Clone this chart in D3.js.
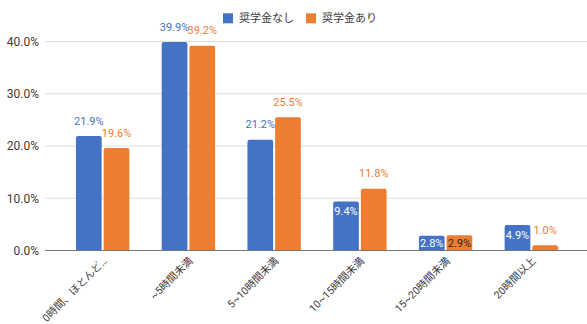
<!DOCTYPE html>
<html>
<head>
<meta charset="utf-8">
<script src="https://cdn.jsdelivr.net/npm/d3@7"></script>
<style>
  html, body { margin: 0; padding: 0; background: #fff; }
  svg { display: block; font-family: Roboto, "Noto Sans CJK JP", sans-serif; }
</style>
</head>
<body>
<svg id="chart" width="587" height="324"></svg>
<script>
// Weekly study hours, with and without a scholarship (share of respondents, %)
const categories = ["0時間、ほとんど…", "~5時間未満", "5~10時間未満", "10~15時間未満", "15~20時間未満", "20時間以上"];
const seriesNames = ["奨学金なし", "奨学金あり"];
const noScholarship = [21.9, 39.9, 21.2, 9.4, 2.8, 4.9];
const withScholarship = [19.6, 39.2, 25.5, 11.8, 2.9, 1.0];
const yTicks = [0, 10, 20, 30, 40];

const colors = ["#4472c4", "#ed7d31"];
const seriesValues = [noScholarship, withScholarship];

const svg = d3.select("#chart");

const y = d3.scaleLinear().domain([0, 40]).range([250.5, 41.5]);
const x0 = d3.scaleBand().domain(categories).range([59.8, 574.2]).padding(0);
const x1 = d3.scaleBand().domain(seriesNames).range([-26.7, 26.7]).paddingInner(0.072);

// gridlines
svg.append("g")
  .selectAll("line")
  .data(yTicks.filter(d => d !== 0))
  .join("line")
  .attr("x1", 45).attr("x2", 587)
  .attr("y1", d => y(d)).attr("y2", d => y(d))
  .attr("stroke", "#dedede").attr("stroke-width", 1);

// y axis labels
svg.append("g")
  .selectAll("text")
  .data(yTicks)
  .join("text")
  .attr("x", 39)
  .attr("y", d => y(d))
  .attr("dy", "0.36em")
  .attr("text-anchor", "end")
  .attr("font-size", 12)
  .attr("fill", "#3c3c3c")
  .text(d => d.toFixed(1) + "%");

// bars with slightly rounded tops
function barPath(x, top, w, bottom, r) {
  const h = bottom - top;
  r = Math.min(r, h, w / 2);
  return `M${x},${bottom}V${top + r}Q${x},${top} ${x + r},${top}H${x + w - r}Q${x + w},${top} ${x + w},${top + r}V${bottom}Z`;
}

const rows = [];
categories.forEach((c, i) => {
  seriesNames.forEach((s, j) => {
    rows.push({ cat: c, series: s, si: j, value: seriesValues[j][i] });
  });
});

const barG = svg.append("g");
barG.selectAll("path")
  .data(rows)
  .join("path")
  .attr("d", d => {
    const bx = x0(d.cat) + x0.bandwidth() / 2 + x1(d.series);
    return barPath(bx, y(d.value), x1.bandwidth(), y(0), 2);
  })
  .attr("fill", d => colors[d.si]);

// baseline
svg.append("line")
  .attr("x1", 45).attr("x2", 587)
  .attr("y1", y(0)).attr("y2", y(0))
  .attr("stroke", "#777").attr("stroke-width", 1.2);

// value labels: short bars under 10% carry their label inside when it fits
svg.append("g")
  .selectAll("text")
  .data(rows)
  .join("text")
  .each(function (d) {
    const cx = x0(d.cat) + x0.bandwidth() / 2 + x1(d.series) + x1.bandwidth() / 2;
    const top = y(d.value);
    const h = y(0) - top;
    const inside = d.value < 10 && h >= 14;
    const t = d3.select(this)
      .attr("x", cx)
      .attr("text-anchor", "middle")
      .attr("font-size", 11)
      .text(d.value.toFixed(1) + "%");
    if (inside) {
      t.attr("y", Math.min(top + 14, y(0) - 3.5))
        .attr("fill", d.si === 0 ? "#ffffff" : "#2a2a2a");
    } else {
      t.attr("y", top - 11.5).attr("fill", colors[d.si]);
    }
  });

// category labels, rotated
svg.append("g")
  .selectAll("text")
  .data(categories)
  .join("text")
  .attr("transform", d => `translate(${x0(d) + x0.bandwidth() / 2 + 5},${261.5}) rotate(-45)`)
  .attr("text-anchor", "end")
  .attr("font-size", 10.5)
  .attr("fill", "#3c3c3c")
  .text(d => d);

// legend
const legend = svg.append("g");
const legendX = [223, 306];
seriesNames.forEach((s, j) => {
  legend.append("rect")
    .attr("x", legendX[j]).attr("y", 13.3)
    .attr("width", 10).attr("height", 10)
    .attr("fill", colors[j]);
  legend.append("text")
    .attr("x", legendX[j] + 16).attr("y", 18.3)
    .attr("dy", "0.36em")
    .attr("font-size", 11)
    .attr("fill", "#3c3c3c")
    .text(s);
});
</script>
</body>
</html>
